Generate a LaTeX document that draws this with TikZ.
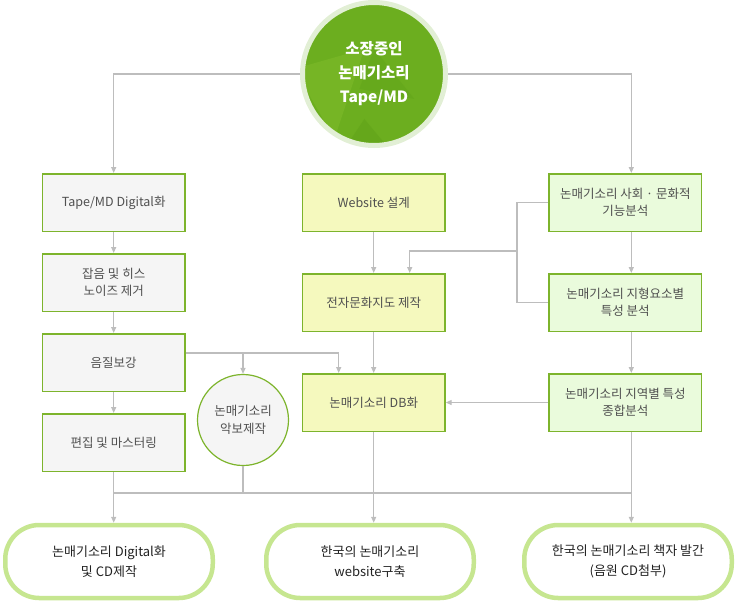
\documentclass[tikz,border=0pt]{standalone}
\usepackage{fontspec}
\setmainfont{Noto Sans CJK KR}
\usepackage{xcolor}
\definecolor{cLine}{HTML}{BDBDBD}
\definecolor{cBorder}{HTML}{7DB42C}
\definecolor{cText}{HTML}{505050}
\definecolor{cDark}{HTML}{222222}
\definecolor{cGrayFill}{HTML}{F5F5F5}
\definecolor{cYellowFill}{HTML}{F5F9BE}
\definecolor{cGreenFill}{HTML}{EAFBDC}
\definecolor{cTop}{HTML}{6CAE1F}
\definecolor{cTopLight}{HTML}{7DBA2A}
\definecolor{cTopDark}{HTML}{5FA219}
\definecolor{cTopRing}{HTML}{E2EFD5}
\definecolor{cEnd}{HTML}{C6E690}
\usepackage{tikz}
\usetikzlibrary{positioning,arrows.meta}
\tikzset{
  node-box/.style={draw=cBorder,line width=1.5pt,minimum height=57.5pt,
    minimum width=142.5pt,align=center,text=cText,
    font=\fontsize{12.5}{17}\selectfont},
  node-gray/.style={fill=cGrayFill},
  node-yellow/.style={fill=cYellowFill},
  node-green/.style={fill=cGreenFill,minimum width=152.5pt},
  node-score/.style={draw=cBorder,line width=1.2pt,circle,fill=cGrayFill,
    minimum size=91pt,align=center,text=cText,
    font=\fontsize{12.5}{18}\selectfont},
  % faceted green disc
  node-top/.style={circle,fill=cTop,draw=cTopRing,line width=5pt,
    minimum size=143pt,align=center,text=white,
    font=\bfseries\fontsize{15.5}{24}\selectfont,
    path picture={
      \begin{scope}[shift={(path picture bounding box.center)}]
        \fill[cTopLight,opacity=.6] (-44,-34) -- (26,-54) -- (-4,36) -- cycle;
        \fill[cTopDark,opacity=.5] (26,16) -- (76,76) -- (-14,76) -- cycle;
        \fill[cTopLight,opacity=.5] (-74,-14) -- (-44,76) -- (-94,76) -- cycle;
        \fill[cTopDark,opacity=.4] (36,-54) -- (76,-4) -- (21,-14) -- cycle;
      \end{scope}}},
  node-end/.style={draw=cEnd,line width=4.5pt,fill=white,rounded corners=34pt,
    minimum width=207.5pt,minimum height=73pt,align=center,text=cDark,
    font=\fontsize{13}{20}\selectfont},
  line/.style={draw=cLine,line width=1.2pt},
  arrow/.style={-{Triangle[length=6pt,width=5pt]},line width=1.2pt,draw=cLine},
}
\begin{document}
\begin{tikzpicture}[x=1pt,y=-1pt,node distance=21pt and 20pt]
  \useasboundingbox (0,0) rectangle (738,603);
  % source
  \node[node-top] (src) at (374,74) {소장중인\\논매기소리\\Tape/MD};
  % left column
  \node[node-box,node-gray] (dig) at (113.7,202.5) {Tape/MD Digital화};
  \node[node-box,node-gray,below=of dig] (noise) {잡음 및 히스\\노이즈 제거};
  \node[node-box,node-gray,below=of noise] (snd) {음질보강};
  \node[node-box,node-gray,below=of snd] (edit) {편집 및 마스터링};
  \node[node-score] (score) at (243,420) {논매기소리\\악보제작};
  % middle column
  \node[node-box,node-yellow] (web) at (373.7,202.5) {Website 설계};
  \node[node-box,node-yellow,below=41pt of web] (map) {전자문화지도 제작};
  \node[node-box,node-yellow,below=41pt of map] (db) {논매기소리 DB화};
  % right column
  \node[node-box,node-green] (soc) at (625.3,202.5) {논매기소리 사회 · 문화적\\기능분석};
  \node[node-box,node-green,below=41pt of soc] (topo) {논매기소리 지형요소별\\특성 분석};
  \node[node-box,node-green,below=41pt of topo] (reg) {논매기소리 지역별 특성\\종합분석};
  % results
  \node[node-end] (out1) at (109,561.5) {논매기소리 Digital화\\및 CD제작};
  \node[node-end] (out2) at (370,561.5) {한국의 논매기소리\\website구축};
  \node[node-end] (out3) at (628,561.5) {한국의 논매기소리 책자 발간\\(음원 CD첨부)};
  \coordinate (rj) at (517,251);
  \coordinate (bus) at (0,493);
  \coordinate (sj) at ([yshift=9.5pt]snd.east);
  % connectors
  \draw[arrow] (src.west) -| (dig.north);
  \draw[arrow] (src.east) -| ([xshift=6pt]soc.north);
  \draw[arrow] (dig) -- (noise);
  \draw[arrow] (noise) -- (snd);
  \draw[arrow] (snd) -- (edit);
  \draw[arrow] (sj) -| ([xshift=-35pt]db.north);
  \draw[arrow] (sj -| score.north) -- (score.north);
  \draw[arrow] (web) -- (map);
  \draw[arrow] (map) -- (db);
  \draw[arrow] ([xshift=6pt]soc.south) -- ([xshift=6pt]topo.north);
  \draw[arrow] ([xshift=6pt]topo.south) -- ([xshift=6pt]reg.north);
  \draw[line] (soc.west) -| (rj) |- (topo.west);
  \draw[arrow] (rj) -| ([xshift=36pt]map.north);
  \draw[arrow] (reg.west) -- (db.east);
  \draw[arrow] (edit.south) -- (edit.south |- out1.north);
  \draw[arrow] (db.south) -- (db.south |- out2.north);
  \draw[arrow] ([xshift=6pt]reg.south) -- ([xshift=6pt]reg.south |- out3.north);
  \draw[line] (score.south) -- (score.south |- bus);
  \draw[line] (edit.south |- bus) -- ([xshift=6pt]reg.south |- bus);
\end{tikzpicture}
\end{document}
